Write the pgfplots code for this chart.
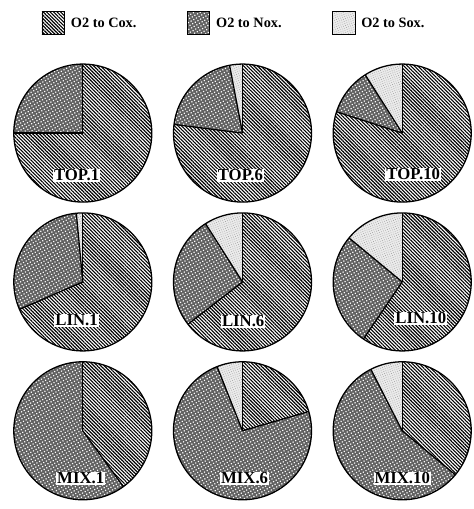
\documentclass[border=0pt]{standalone}
\usepackage{fontspec}
\setmainfont{Liberation Serif}
\usepackage{pgfplots}
\pgfplotsset{compat=1.18}
\usepgfplotslibrary{groupplots}
\usetikzlibrary{patterns.meta}

% fill styles of the three shares
\tikzset{
  cox/.style={pattern={Lines[angle=-45,distance=2.5pt,line width=1.15pt]},pattern color=black},
  nox/.style={fill=black!62,postaction={pattern={Dots[radius=0.85pt,distance=3.1pt,angle=30]},pattern color=white}},
  sox/.style={fill=black!8,postaction={pattern={Dots[radius=0.45pt,distance=2.2pt,angle=20]},pattern color=black!40}},
  pielabel/.style={fill=white,inner sep=1pt,font=\fontsize{17}{19}\selectfont\bfseries},
}
\pgfplotsset{swatch/.style={legend image code/.code={\draw[##1,line width=0.8pt] (0pt,-11.5pt) rectangle (23pt,11.5pt);}}}

\newcommand{\R}{70pt}
% one pie: shares (percent) of Cox, Nox and Sox, clockwise from twelve o'clock
\newcommand{\pie}[3]{%
  \fill[cox] (axis cs:0,0) -- ++(90:\R) arc[start angle=90,end angle={90-3.6*#1},radius=\R] -- cycle;
  \fill[nox] (axis cs:0,0) -- ++({90-3.6*#1}:\R) arc[start angle={90-3.6*#1},end angle={90-3.6*(#1+#2)},radius=\R] -- cycle;
  \fill[sox] (axis cs:0,0) -- ++({90-3.6*(#1+#2)}:\R) arc[start angle={90-3.6*(#1+#2)},end angle=-270,radius=\R] -- cycle;
  \draw[line width=1.3pt] (axis cs:0,0) -- ++(90:\R);
  \draw[line width=1.3pt] (axis cs:0,0) -- ++({90-3.6*#1}:\R);
  \draw[line width=1.3pt] (axis cs:0,0) -- ++({90-3.6*(#1+#2)}:\R);
  \draw[line width=1.3pt] (axis cs:0,0) circle[radius=\R];
}

\begin{document}
\begin{tikzpicture}
\begin{groupplot}[
  group style={group name=G, group size=3 by 3, horizontal sep=22pt, vertical sep=11pt},
  width=140pt, height=140pt, scale only axis,
  xmin=-1, xmax=1, ymin=-1, ymax=1,
  hide axis, clip=false,
]
\nextgroupplot[
  legend columns=3,
  legend style={draw=none, fill=none, inner sep=0pt, at={(0.2,1.296)}, anchor=west,
    font=\fontsize{14.5}{16}\selectfont\bfseries, nodes={inner sep=0pt},
    /tikz/every odd column/.append style={column sep=6pt},
    /tikz/every even column/.append style={column sep=51pt}},
]
\addlegendimage{swatch,cox}
\addlegendentry{O2 to Cox.}
\addlegendimage{swatch,nox}
\addlegendentry{O2 to Nox.}
\addlegendimage{swatch,sox}
\addlegendentry{O2 to Sox.}
\pie{75}{25}{0}
\node[pielabel] at (axis cs:-0.09,-0.61) {TOP.1};

\nextgroupplot
\pie{77}{20}{3}
\node[pielabel] at (axis cs:-0.03,-0.61) {TOP.6};

\nextgroupplot
\pie{80}{11}{9}
\node[pielabel] at (axis cs:0.16,-0.6) {TOP.10};

\nextgroupplot
\pie{68.5}{30}{1.5}
\node[pielabel] at (axis cs:-0.09,-0.56) {LIN.1};

\nextgroupplot
\pie{64.5}{26.5}{9}
\node[pielabel] at (axis cs:0.01,-0.57) {LIN.6};

\nextgroupplot
\pie{59.5}{26.5}{14}
\node[pielabel] at (axis cs:0.27,-0.53) {LIN.10};

\nextgroupplot
\pie{40}{60}{0}
\node[pielabel] at (axis cs:-0.03,-0.69) {MIX.1};

\nextgroupplot
\pie{20.5}{73.5}{6}
\node[pielabel] at (axis cs:0.03,-0.69) {MIX.6};

\nextgroupplot
\pie{36}{56.5}{7.5}
\node[pielabel] at (axis cs:0,-0.69) {MIX.10};
\end{groupplot}
\path[use as bounding box] ([shift={(-14pt,65pt)}]G c1r1.north west) rectangle ([shift={(466pt,-444pt)}]G c1r1.north west);
\end{tikzpicture}
\end{document}
